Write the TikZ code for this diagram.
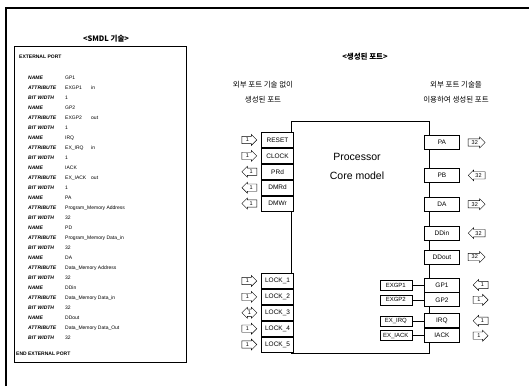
\documentclass[tikz,border=0pt]{standalone}
\usepackage{fontspec}
\setmainfont{Liberation Sans}
\newfontfamily\krfont{Noto Sans CJK KR}
\usetikzlibrary{positioning,shapes.arrows}

\begin{document}
\begin{tikzpicture}[
  x=1pt, y=-1pt,
  every node/.style={inner sep=1pt},
  port/.style={draw, fill=white, line width=0.9pt, minimum width=32pt,
               minimum height=15pt, inner sep=0pt, font=\fontsize{6.5}{7}\selectfont},
  rport/.style={port, minimum width=35pt, minimum height=14pt},
  exb/.style={draw, thin, minimum width=32pt, minimum height=10pt, inner sep=0pt,
              font=\fontsize{6}{7}\selectfont},
  sigr/.style={single arrow, draw, thin, minimum height=15pt, minimum width=11pt,
               single arrow head extend=1.5pt, inner sep=0.8pt,
               font=\fontsize{5.5}{6}\selectfont},
  sigl/.style={sigr, shape border rotate=180},
  sigb/.style={double arrow, draw, thin, minimum height=15pt, minimum width=11pt,
               double arrow head extend=1.5pt, inner sep=0.8pt,
               font=\fontsize{5.5}{6}\selectfont},
  kw/.style={anchor=base west, inner sep=0pt, font=\fontsize{5}{6}\selectfont\bfseries\itshape},
  val/.style={anchor=base west, inner sep=0pt, font=\fontsize{5}{6}\selectfont},
  hdr/.style={align=center, font=\krfont\fontsize{7.5}{15}\selectfont},
  ttl/.style={hdr, font=\krfont\fontsize{7.5}{15}\selectfont\bfseries},
]
\useasboundingbox (0,0) rectangle (529,386);

% --- page frame
\draw[line width=1.2pt] (6,386) -- (6,8) -- (529,8);

% =============================================================== SMDL listing
\node[ttl] (smdltitle) at (106,39) {<SMDL 기술>};
\node[draw, thin, minimum width=172pt, minimum height=316pt, anchor=north west,
      inner sep=0pt] (smdl) at (14,46) {};
\node[val, font=\fontsize{5}{6}\selectfont\bfseries] (extport) at (19,58) {EXTERNAL PORT};

\foreach \k/\v/\d [count=\i from 0] in {
    NAME/GP1/, ATTRIBUTE/EXGP1/in, BIT WIDTH/1/,
    NAME/GP2/, ATTRIBUTE/EXGP2/out, BIT WIDTH/1/,
    NAME/IRQ/, ATTRIBUTE/EX\_IRQ/in, BIT WIDTH/1/,
    NAME/IACK/, ATTRIBUTE/EX\_IACK/out, BIT WIDTH/1/,
    NAME/PA/, ATTRIBUTE/Program\_Memory Address/, BIT WIDTH/32/,
    NAME/PD/, ATTRIBUTE/Program\_Memory Data\_in/, BIT WIDTH/32/,
    NAME/DA/, ATTRIBUTE/Data\_Memory Address/, BIT WIDTH/32/,
    NAME/DDin/, ATTRIBUTE/Data\_Memory Data\_in/, BIT WIDTH/32/,
    NAME/DDout/, ATTRIBUTE/Data\_Memory Data\_Out/, BIT WIDTH/32/}
{
  \node[kw] (kw\i) at (28,{79+10*\i}) {\k};
  \node[val] (val\i) at (65,{79+10*\i}) {\v};
  \node[val] (dir\i) at (91,{79+10*\i}) {\d};
}
\node[val, font=\fontsize{5}{6}\selectfont\bfseries] (endport) at (16,355) {END EXTERNAL PORT};

% =============================================================== generated ports
\node[ttl] (gentitle) at (365,57) {<생성된 포트>};
\node[hdr] (nodesc) at (263,92.5) {외부 포트 기술 없이\\생성된 포트};
\node[hdr] (withdesc) at (456,92.5) {외부 포트 기술을\\이용하여 생성된 포트};

\node[draw, line width=1.1pt, minimum width=138pt, minimum height=232pt,
      anchor=north west, inner sep=0pt] (core) at (291,121) {};
\node[align=center, font=\fontsize{10.5}{19}\selectfont] (coretext) at (357,166)
  {Processor\\Core model};

% --- ports made without a port description
\node[port, anchor=north east] (reset) at (294,132) {RESET};
\node[port, below=0pt of reset] (clock) {CLOCK};
\node[port, below=0pt of clock] (prd) {PRd};
\node[port, below=0pt of prd] (dmrd) {DMRd};
\node[port, below=0pt of dmrd] (dmwr) {DMWr};

\node[port, anchor=north east] (lock1) at (294,273) {LOCK\_1};
\node[port, below=0pt of lock1] (lock2) {LOCK\_2};
\node[port, below=0pt of lock2] (lock3) {LOCK\_3};
\node[port, below=0pt of lock3] (lock4) {LOCK\_4};
\node[port, below=0pt of lock4] (lock5) {LOCK\_5};

\foreach \p/\s in {reset/sigr, clock/sigr, prd/sigl, dmrd/sigl, dmwr/sigl,
                   lock1/sigr, lock2/sigr, lock3/sigb, lock4/sigr, lock5/sigr}
  \node[\s, left=4pt of \p] (a\p) {1};

% --- ports made from the port description
\node[rport, anchor=north west] (pa) at (424,135) {PA};
\node[rport, below=18pt of pa] (pb) {PB};
\node[rport, below=14pt of pb] (da) {DA};
\node[rport, below=14pt of da] (ddin) {DDin};
\node[rport, below=9pt of ddin] (ddout) {DDout};
\node[rport, below=13pt of ddout] (gp1) {GP1};
\node[rport, below=0pt of gp1] (gp2) {GP2};
\node[rport, below=6pt of gp2] (irq) {IRQ};
\node[rport, below=0pt of irq] (iack) {IACK};

\foreach \p/\s in {pa/sigr, pb/sigl, da/sigr, ddin/sigl, ddout/sigr}
  \node[\s, minimum height=17pt, right=8pt of \p] (a\p) {32};
\foreach \p/\s in {gp1/sigl, gp2/sigr, irq/sigl, iack/sigr}
  \node[\s, right=13pt of \p] (a\p) {1};

\foreach \p/\t in {gp1/EXGP1, gp2/EXGP2, irq/EX\_IRQ, iack/EX\_IACK}
{
  \node[exb, left=12pt of \p] (ex\p) {\t};
  \draw (ex\p) -- (\p);
}

\end{tikzpicture}
\end{document}
